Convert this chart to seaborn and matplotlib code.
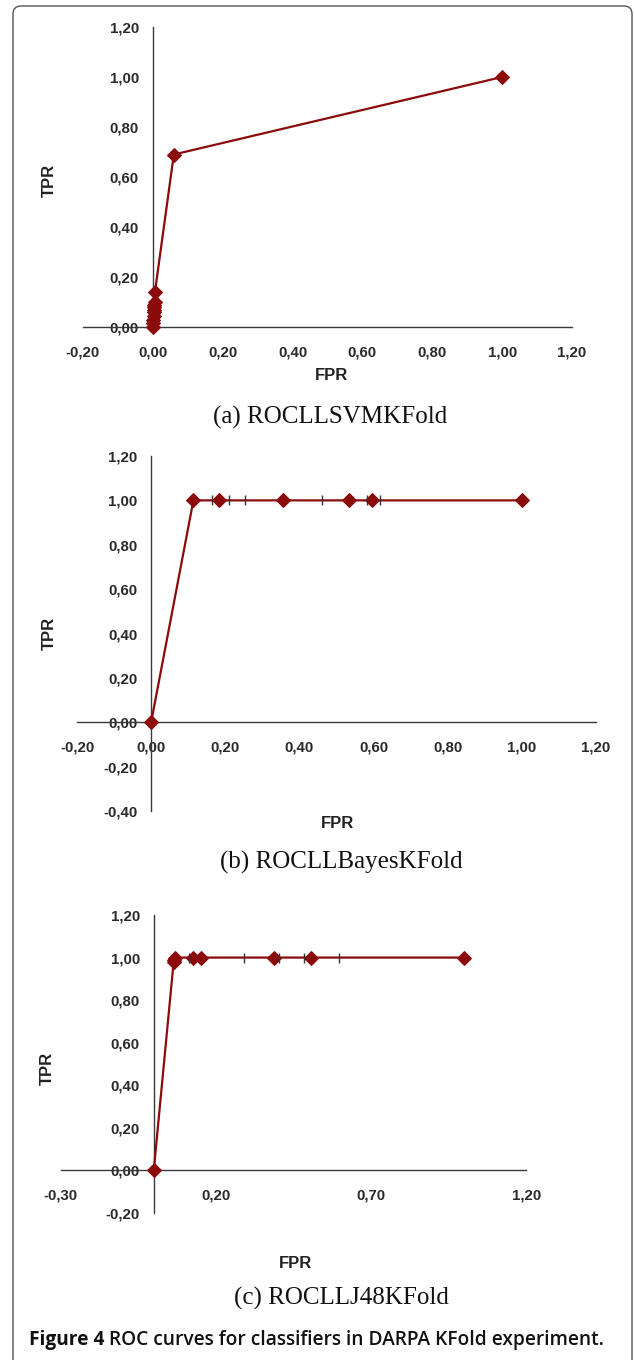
import numpy as np
import pandas as pd
import seaborn as sns
import matplotlib.pyplot as plt
from matplotlib.patches import FancyBboxPatch
from matplotlib.ticker import FuncFormatter, FixedLocator

# ROC points
fpr_svm = [0.0, 0.001, 0.001, 0.002, 0.002, 0.003, 0.003, 0.004, 0.005, 0.006, 0.06, 1.0]
tpr_svm = [0.0, 0.015, 0.03, 0.045, 0.06, 0.07, 0.08, 0.09, 0.10, 0.14, 0.69, 1.0]

fpr_bayes = [0.0, 0.114, 0.184, 0.357, 0.535, 0.596, 1.0]
tpr_bayes = [0.0, 1.0, 1.0, 1.0, 1.0, 1.0, 1.0]
dash_bayes = [0.164, 0.209, 0.254, 0.462, 0.582, 0.616]

fpr_j48 = [0.0, 0.064, 0.065, 0.068, 0.125, 0.153, 0.386, 0.505, 1.0]
tpr_j48 = [0.0, 0.98, 0.99, 1.0, 1.0, 1.0, 1.0, 1.0, 1.0]
dash_j48 = [0.112, 0.29, 0.404, 0.483, 0.597]

xticks_a = [-0.2, 0.0, 0.2, 0.4, 0.6, 0.8, 1.0, 1.2]
yticks_a = [0.0, 0.2, 0.4, 0.6, 0.8, 1.0, 1.2]
xticks_b = [-0.2, 0.0, 0.2, 0.4, 0.6, 0.8, 1.0, 1.2]
yticks_b = [-0.4, -0.2, 0.0, 0.2, 0.4, 0.6, 0.8, 1.0, 1.2]
xticks_c = [-0.3, 0.2, 0.7, 1.2]
yticks_c = [-0.2, 0.0, 0.2, 0.4, 0.6, 0.8, 1.0, 1.2]

captions = ["(a) ROCLLSVMKFold", "(b) ROCLLBayesKFold", "(c) ROCLLJ48KFold"]

sns.set_style("white")
plt.rcParams['font.family'] = ['Liberation Sans', 'DejaVu Sans']

W, H = 634, 1360
fig = plt.figure(figsize=(W / 100, H / 100), dpi=100)

# frame around the whole figure (pixel coordinates)
bg = fig.add_axes([0, 0, 1, 1])
bg.set_xlim(0, W)
bg.set_ylim(H, 0)
bg.axis('off')
bg.add_patch(FancyBboxPatch((13, 6), 619, 1400, boxstyle="round,pad=0,rounding_size=8",
                            fc='none', ec='#555555', lw=1.0))

red = '#8b0a0a'
tick_col = '#2a2a2a'
fmt = FuncFormatter(lambda v, p: f"{v:.2f}".replace('.', ','))


def px_axes(x0, x1, ytop, ybot):
    return fig.add_axes([x0 / W, 1 - ybot / H, (x1 - x0) / W, (ybot - ytop) / H])


def style(ax, xlim, ylim, xt, yt):
    ax.set_xlim(*xlim)
    ax.set_ylim(*ylim)
    ax.xaxis.set_major_locator(FixedLocator(xt))
    ax.yaxis.set_major_locator(FixedLocator(yt))
    ax.xaxis.set_major_formatter(fmt)
    ax.yaxis.set_major_formatter(fmt)
    for s in ['top', 'right']:
        ax.spines[s].set_visible(False)
    for s in ['left', 'bottom']:
        ax.spines[s].set_position(('data', 0))
        ax.spines[s].set_color('#3a3a3a')
        ax.spines[s].set_linewidth(1.0)
    ax.tick_params(axis='both', direction='out', length=4, width=1, color='#3a3a3a',
                   labelsize=10.8, labelcolor=tick_col)
    ax.tick_params(axis='y', pad=6)
    ax.tick_params(axis='x', pad=9)
    for lbl in ax.get_xticklabels() + ax.get_yticklabels():
        lbl.set_fontweight('bold')
    ax.set_xlabel('')
    ax.set_ylabel('')
    ax.patch.set_alpha(0)


def draw(ax, fpr, tpr, dashes=None):
    df = pd.DataFrame({'FPR': fpr, 'TPR': tpr})
    sns.lineplot(data=df, x='FPR', y='TPR', sort=False, estimator=None, ax=ax,
                 color=red, lw=1.6, marker='D', markersize=7.5, markeredgecolor=red,
                 clip_on=False, zorder=3)
    if dashes:
        dd = pd.DataFrame({'FPR': dashes, 'TPR': [1.0] * len(dashes)})
        sns.scatterplot(data=dd, x='FPR', y='TPR', ax=ax, marker='|', s=55,
                        color='#333333', linewidth=1.0, zorder=4)


# (a)
ax1 = px_axes(83, 572, 27, 327)
draw(ax1, fpr_svm, tpr_svm)
style(ax1, (-0.2, 1.2), (0.0, 1.2), xticks_a, yticks_a)

# (b)
ax2 = px_axes(77, 596, 456, 811)
draw(ax2, fpr_bayes, tpr_bayes, dash_bayes)
style(ax2, (-0.2, 1.2), (-0.4, 1.2), xticks_b, yticks_b)

# (c)
ax3 = px_axes(60.6, 526.4, 915, 1213)
draw(ax3, fpr_j48, tpr_j48, dash_j48)
style(ax3, (-0.3, 1.2), (-0.2, 1.2), xticks_c, yticks_c)

lab = dict(fontsize=12, fontweight='bold', color='#222222', ha='center', va='center')
for (tx, ty), (fx, fy) in [((49, 180), (331, 375)), ((49, 633), (337, 823)), ((47, 1068), (296, 1263))]:
    bg.text(tx, ty, 'TPR', rotation=90, **lab)
    bg.text(fx, fy, 'FPR', **lab)

for (cx, cy), cap in zip([(330, 417), (341, 862), (341, 1298)], captions):
    bg.text(cx, cy, cap, family=['Liberation Serif', 'DejaVu Serif'], fontsize=18,
            color='#111111', ha='center', va='center')

t = bg.text(29, 1340, 'Figure 4', family=['Open Sans', 'DejaVu Sans'], fontsize=13.8,
            fontweight='bold', color='#111111', ha='left', va='center')
fig.canvas.draw()
bb = t.get_window_extent()
x_end = bb.x1
bg.text(x_end + 5, 1340, 'ROC curves for classifiers in DARPA KFold experiment.',
        family=['Open Sans', 'DejaVu Sans'], fontsize=13.8, fontweight='semibold',
        color='#111111', ha='left', va='center')

fig.savefig('out.png', dpi=100)
